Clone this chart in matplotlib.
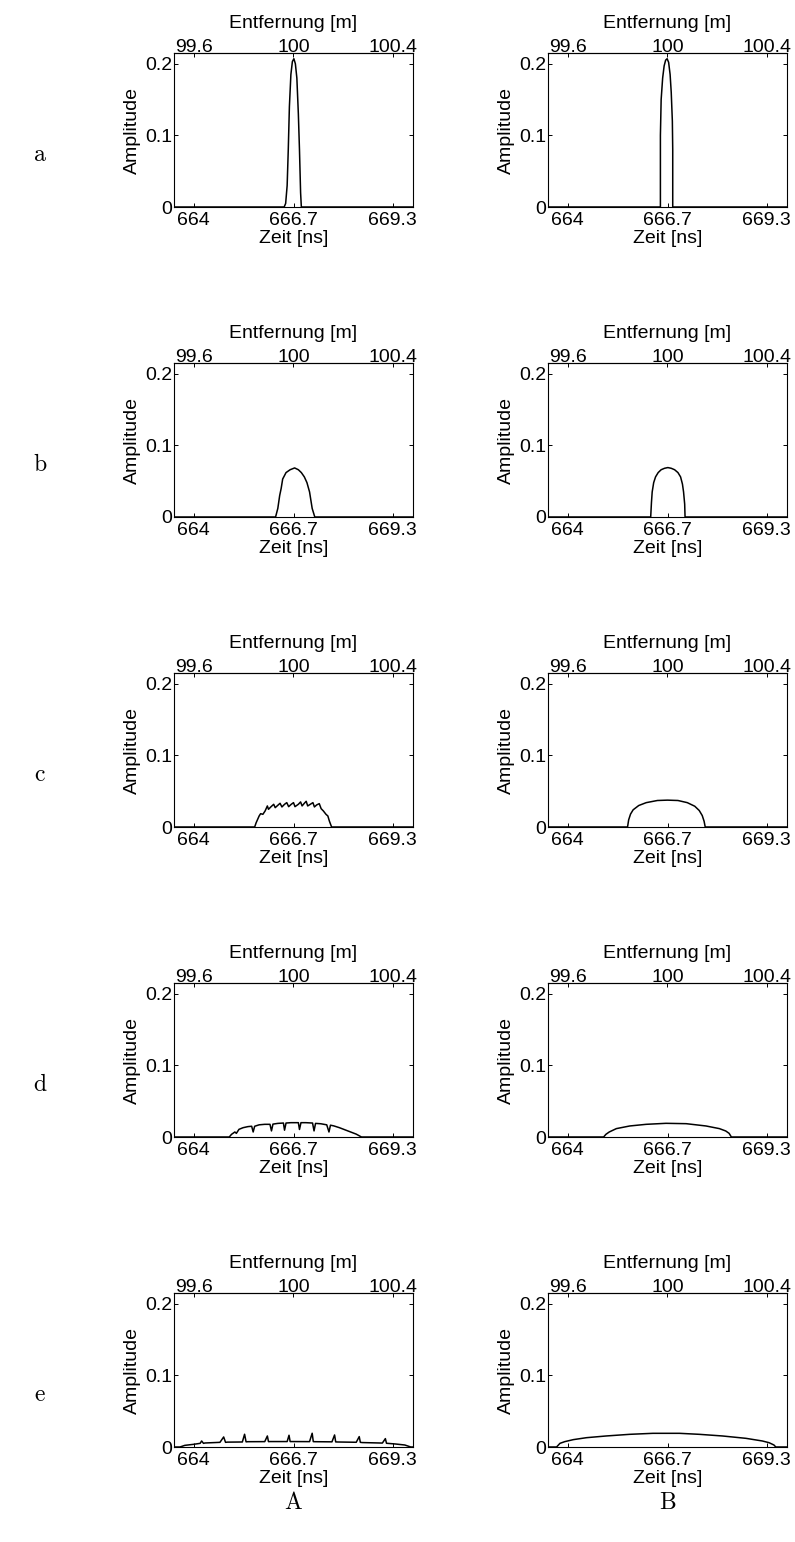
import matplotlib.pyplot as plt
import numpy as np

plt.rcParams['font.family'] = ['Liberation Sans', 'DejaVu Sans']

# axis ranges (time in ns, amplitude)
t_lim = (663.47, 669.87)
amp_lim = (0, 0.215)
t_ticks = [664.0, 666.67, 669.33]
t_labels = ['664', '666.7', '669.3']
d_ticks = [99.6, 100.0, 100.4]
d_labels = ['99.6', '100', '100.4']
amp_ticks = [0, 0.1, 0.2]
amp_labels = ['0', '0.1', '0.2']
row_names = ['a', 'b', 'c', 'd', 'e']
col_names = ['A', 'B']

# --- curves ---
aA_t = [666.42, 666.46, 666.50, 666.53, 666.56, 666.60, 666.64, 666.68, 666.72, 666.76, 666.80, 666.83, 666.86, 666.88]
aA_y = [0, 0.005, 0.03, 0.08, 0.14, 0.185, 0.203, 0.207, 0.2, 0.18, 0.13, 0.08, 0.02, 0]
aB_t = [666.48, 666.48, 666.50, 666.54, 666.58, 666.62, 666.66, 666.70, 666.74, 666.77, 666.80, 666.81, 666.81]
aB_y = [0, 0.10, 0.15, 0.18, 0.197, 0.205, 0.207, 0.202, 0.185, 0.16, 0.12, 0.08, 0]

bA_t = [666.19, 666.25, 666.30, 666.34, 666.38, 666.47, 666.58, 666.70, 666.80, 666.88, 666.96, 667.03, 667.10, 667.17, 667.24]
bA_y = [0, 0.012, 0.030, 0.040, 0.053, 0.062, 0.066, 0.0685, 0.066, 0.062, 0.056, 0.048, 0.035, 0.012, 0]
bB_t = [666.22, 666.24, 666.26, 666.30, 666.35, 666.42, 666.50, 666.59, 666.68, 666.77, 666.86, 666.95, 667.02, 667.07, 667.10, 667.13, 667.14]
bB_y = [0, 0.020, 0.035, 0.048, 0.056, 0.062, 0.066, 0.068, 0.069, 0.068, 0.066, 0.062, 0.056, 0.046, 0.035, 0.018, 0]

cA_t = [665.63, 665.67, 665.75, 665.79, 665.85, 665.91, 665.97, 666.00, 666.07, 666.14, 666.18, 666.25,
        666.31, 666.36, 666.43, 666.49, 666.54, 666.61, 666.67, 666.71, 666.80, 666.86, 666.90, 666.96,
        667.01, 667.05, 667.12, 667.19, 667.23, 667.29, 667.36, 667.41, 667.47, 667.54, 667.59, 667.63, 667.69]
cA_y = [0, 0.006, 0.0154, 0.0186, 0.0177, 0.0224, 0.0294, 0.0247, 0.0284, 0.0317, 0.027, 0.0303,
        0.0331, 0.028, 0.0317, 0.034, 0.0284, 0.0317, 0.034, 0.0284, 0.0317, 0.035, 0.0294, 0.0331,
        0.0359, 0.0294, 0.0317, 0.034, 0.028, 0.0308, 0.0326, 0.0256, 0.0224, 0.0177, 0.0154, 0.0084, 0]
cB_t = [665.60, 665.63, 665.68, 665.75, 665.90, 666.10, 666.40, 666.67, 666.95, 667.20, 667.40, 667.52, 667.60, 667.65, 667.68]
cB_y = [0, 0.010, 0.018, 0.024, 0.030, 0.034, 0.037, 0.0375, 0.037, 0.034, 0.029, 0.023, 0.016, 0.008, 0]

dA_t = [664.95, 665.01, 665.10, 665.14, 665.21, 665.32, 665.45, 665.55, 665.59, 665.63, 665.75, 665.90,
        666.04, 666.08, 666.12, 666.25, 666.40, 666.43, 666.47, 666.60, 666.80, 666.83, 666.87, 667.00,
        667.18, 667.22, 667.26, 667.40, 667.56, 667.62, 667.66, 667.75, 667.90, 668.05, 668.20, 668.35, 668.49]
dA_y = [0, 0.0037, 0.0070, 0.0051, 0.0107, 0.0130, 0.0145, 0.0150, 0.0070, 0.0150, 0.0170, 0.0177,
        0.0177, 0.0085, 0.0180, 0.0190, 0.0195, 0.0095, 0.0195, 0.0200, 0.0200, 0.0105, 0.0200, 0.0200,
        0.0195, 0.0085, 0.0190, 0.0185, 0.0170, 0.0070, 0.0165, 0.0155, 0.0130, 0.0100, 0.0070, 0.0040, 0]
dB_t = [664.96, 665.02, 665.11, 665.30, 665.66, 666.10, 666.63, 667.17, 667.70, 668.06, 668.23, 668.32, 668.38]
dB_y = [0, 0.0037, 0.0070, 0.0117, 0.0154, 0.0177, 0.0191, 0.0186, 0.0154, 0.0117, 0.0084, 0.0051, 0]

eA_t = [663.63, 663.76, 663.99, 664.17, 664.21, 664.26, 664.30, 664.70, 664.80, 664.85, 664.90, 665.30, 665.36,
        665.40, 665.45, 665.90, 665.97, 666.00, 666.05, 666.50, 666.55, 666.58, 666.63, 667.10, 667.17, 667.20,
        667.25, 667.70, 667.77, 667.80, 667.85, 668.35, 668.43, 668.46, 668.51, 669.05, 669.13, 669.16, 669.21,
        669.40, 669.65, 669.81]
eA_y = [0, 0.0023, 0.0037, 0.0051, 0.0084, 0.0051, 0.0056, 0.0065, 0.0140, 0.0065, 0.0068, 0.0070, 0.0178,
        0.0072, 0.0074, 0.0075, 0.0154, 0.0075, 0.0076, 0.0076, 0.0164, 0.0076, 0.0076, 0.0075, 0.0192, 0.0075,
        0.0074, 0.0072, 0.0168, 0.0071, 0.0070, 0.0066, 0.0145, 0.0065, 0.0062, 0.0055, 0.0117, 0.0052, 0.0050,
        0.0042, 0.0028, 0]
eB_t = [663.70, 663.79, 663.92, 664.15, 664.50, 665.03, 665.66, 666.28, 666.99, 667.52, 668.14, 668.77, 669.21, 669.39, 669.52, 669.57]
eB_y = [0, 0.0051, 0.0075, 0.0103, 0.0130, 0.0154, 0.0177, 0.0191, 0.0191, 0.0177, 0.0154, 0.0121, 0.0084, 0.0060, 0.0028, 0]

curves = [[(aA_t, aA_y), (aB_t, aB_y)],
          [(bA_t, bA_y), (bB_t, bB_y)],
          [(cA_t, cA_y), (cB_t, cB_y)],
          [(dA_t, dA_y), (dB_t, dB_y)],
          [(eA_t, eA_y), (eB_t, eB_y)]]

W, H = 795, 1542
fig = plt.figure(figsize=(W / 100, H / 100), dpi=100)

col_left = [174, 548]
ax_w, ax_h = 239, 154
row_top0, row_step = 53, 310
fs = 14


def ns_to_m(t):
    return np.asarray(t) * 0.15


def m_to_ns(d):
    return np.asarray(d) / 0.15


for r in range(5):
    top = row_top0 + r * row_step
    for c in range(2):
        ax = fig.add_axes([col_left[c] / W, 1 - (top + ax_h) / H, ax_w / W, ax_h / H])
        t, y = curves[r][c]
        t = [t_lim[0]] + list(t) + [t_lim[1]]
        y = [0] + list(y) + [0]
        ax.plot(t, y, color='black', lw=1.1)
        ax.set_xlim(t_lim)
        ax.set_ylim(amp_lim)
        ax.set_xticks(t_ticks, t_labels)
        ax.set_yticks(amp_ticks, amp_labels)
        ax.tick_params(direction='in', length=3, width=0.7, labelsize=fs,
                       right=True, top=False, pad=1.5)
        ax.tick_params(axis='x', pad=3.5)
        for s in ax.spines.values():
            s.set_linewidth(0.8)
        ax.set_xlabel('Zeit [ns]', fontsize=fs, labelpad=1)
        ax.set_ylabel('Amplitude', fontsize=fs, labelpad=3)

        sec = ax.secondary_xaxis('top', functions=(ns_to_m, m_to_ns))
        sec.set_xticks(d_ticks, d_labels)
        sec.tick_params(direction='in', length=3, width=0.7, labelsize=fs, pad=-2.5)
        sec.spines['top'].set_linewidth(0.8)
        sec.set_xlabel('Entfernung [m]', fontsize=fs, labelpad=8)

    fig.text(40 / W, 1 - (155 + r * row_step) / H, r'$\mathrm{%s}$' % row_names[r],
             ha='center', va='center', fontsize=17, math_fontfamily='cm')

for c, name in enumerate(col_names):
    fig.text((col_left[c] + ax_w / 2) / W, 1 - 1503 / H, r'$\mathrm{%s}$' % name,
             ha='center', va='center', fontsize=17, math_fontfamily='cm')

fig.savefig('out.png', dpi=100)
